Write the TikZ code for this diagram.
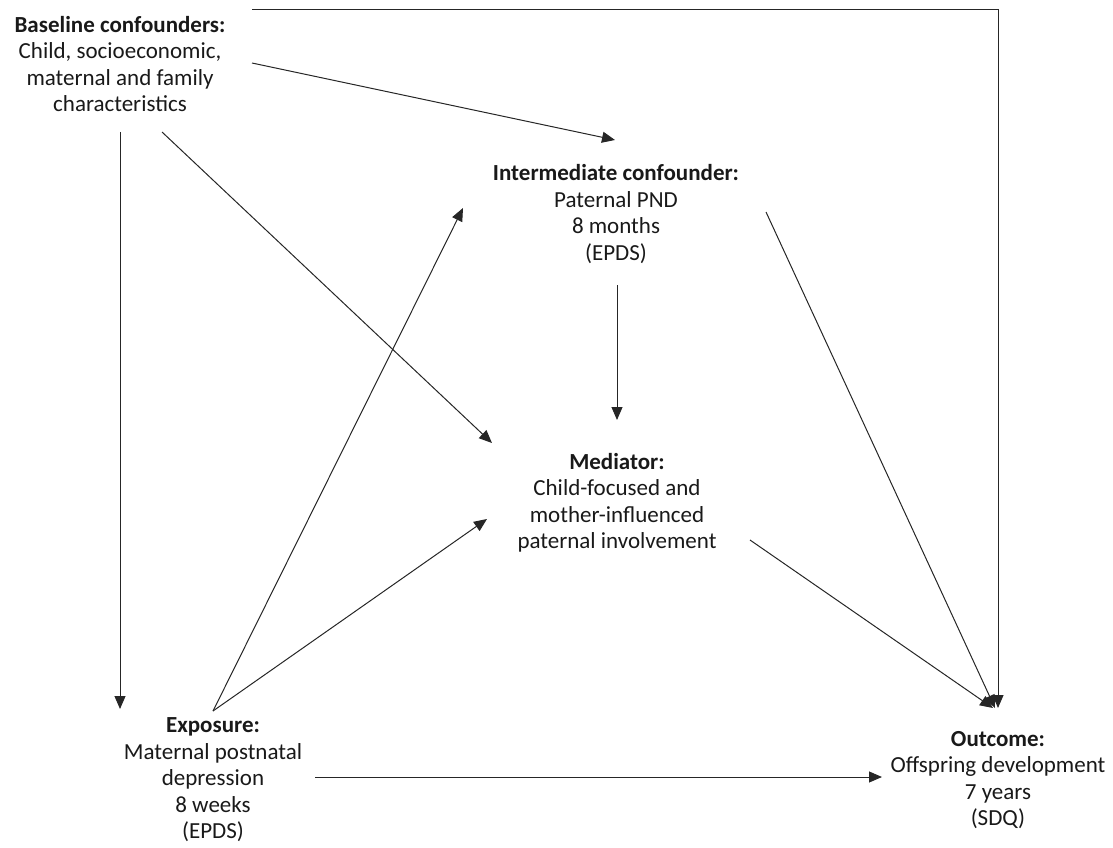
\documentclass[tikz,border=0pt]{standalone}
\usepackage{fontspec}
\setmainfont{Carlito}
\usetikzlibrary{arrows.meta,calc}
\begin{document}
\begin{tikzpicture}[x=1pt,y=-1pt,
  lbl/.style={align=center,inner sep=0pt,text=black!90,font=\fontsize{23}{26.5}\selectfont},
  arr/.style={draw=black!85,line width=1pt,-{Triangle[length=13pt,width=11pt]}}]
\useasboundingbox (0,0) rectangle (1113,848);
\node[lbl] (B) at (120,64) {\textbf{Baseline confounders:}\\Child, socioeconomic,\\maternal and family\\characteristics};
\node[lbl] (I) at (616,214) {\textbf{Intermediate confounder:}\\Paternal PND\\8 months\\(EPDS)};
\node[lbl] (M) at (617,503) {\textbf{Mediator:}\\Child-focused and\\mother-influenced\\paternal involvement};
\node[lbl] (E) at (213,780) {\textbf{Exposure:}\\Maternal postnatal\\depression\\8 weeks\\(EPDS)};
\node[lbl] (O) at (998,780) {\textbf{Outcome:}\\Offspring development\\7 years\\(SDQ)};
\draw[arr] ([shift={(132,-54)}]B.center) -| ([shift={(0,-72)}]O.center);
\draw[arr] ([shift={(132,-1)}]B.center) -- ([shift={(-1,-74)}]I.center);
\draw[arr] ([shift={(0,68)}]B.center) -- ([shift={(-93,-71)}]E.center);
\draw[arr] ([shift={(42,68)}]B.center) -- ([shift={(-125,-60)}]M.center);
\draw[arr] ([shift={(0,-69)}]E.center) -- ([shift={(-153,-6)}]I.center);
\draw[arr] ([shift={(0,-69)}]E.center) -- ([shift={(-130,16)}]M.center);
\draw[arr] ([shift={(102,-3)}]E.center) -- ([shift={(-116,-3)}]O.center);
\draw[arr] ([shift={(1,71)}]I.center) -- ([shift={(0,-83)}]M.center);
\draw[arr] ([shift={(150,-2)}]I.center) -- ([shift={(-3,-72)}]O.center);
\draw[arr] ([shift={(133,37)}]M.center) -- ([shift={(-5,-72)}]O.center);
\end{tikzpicture}
\end{document}
